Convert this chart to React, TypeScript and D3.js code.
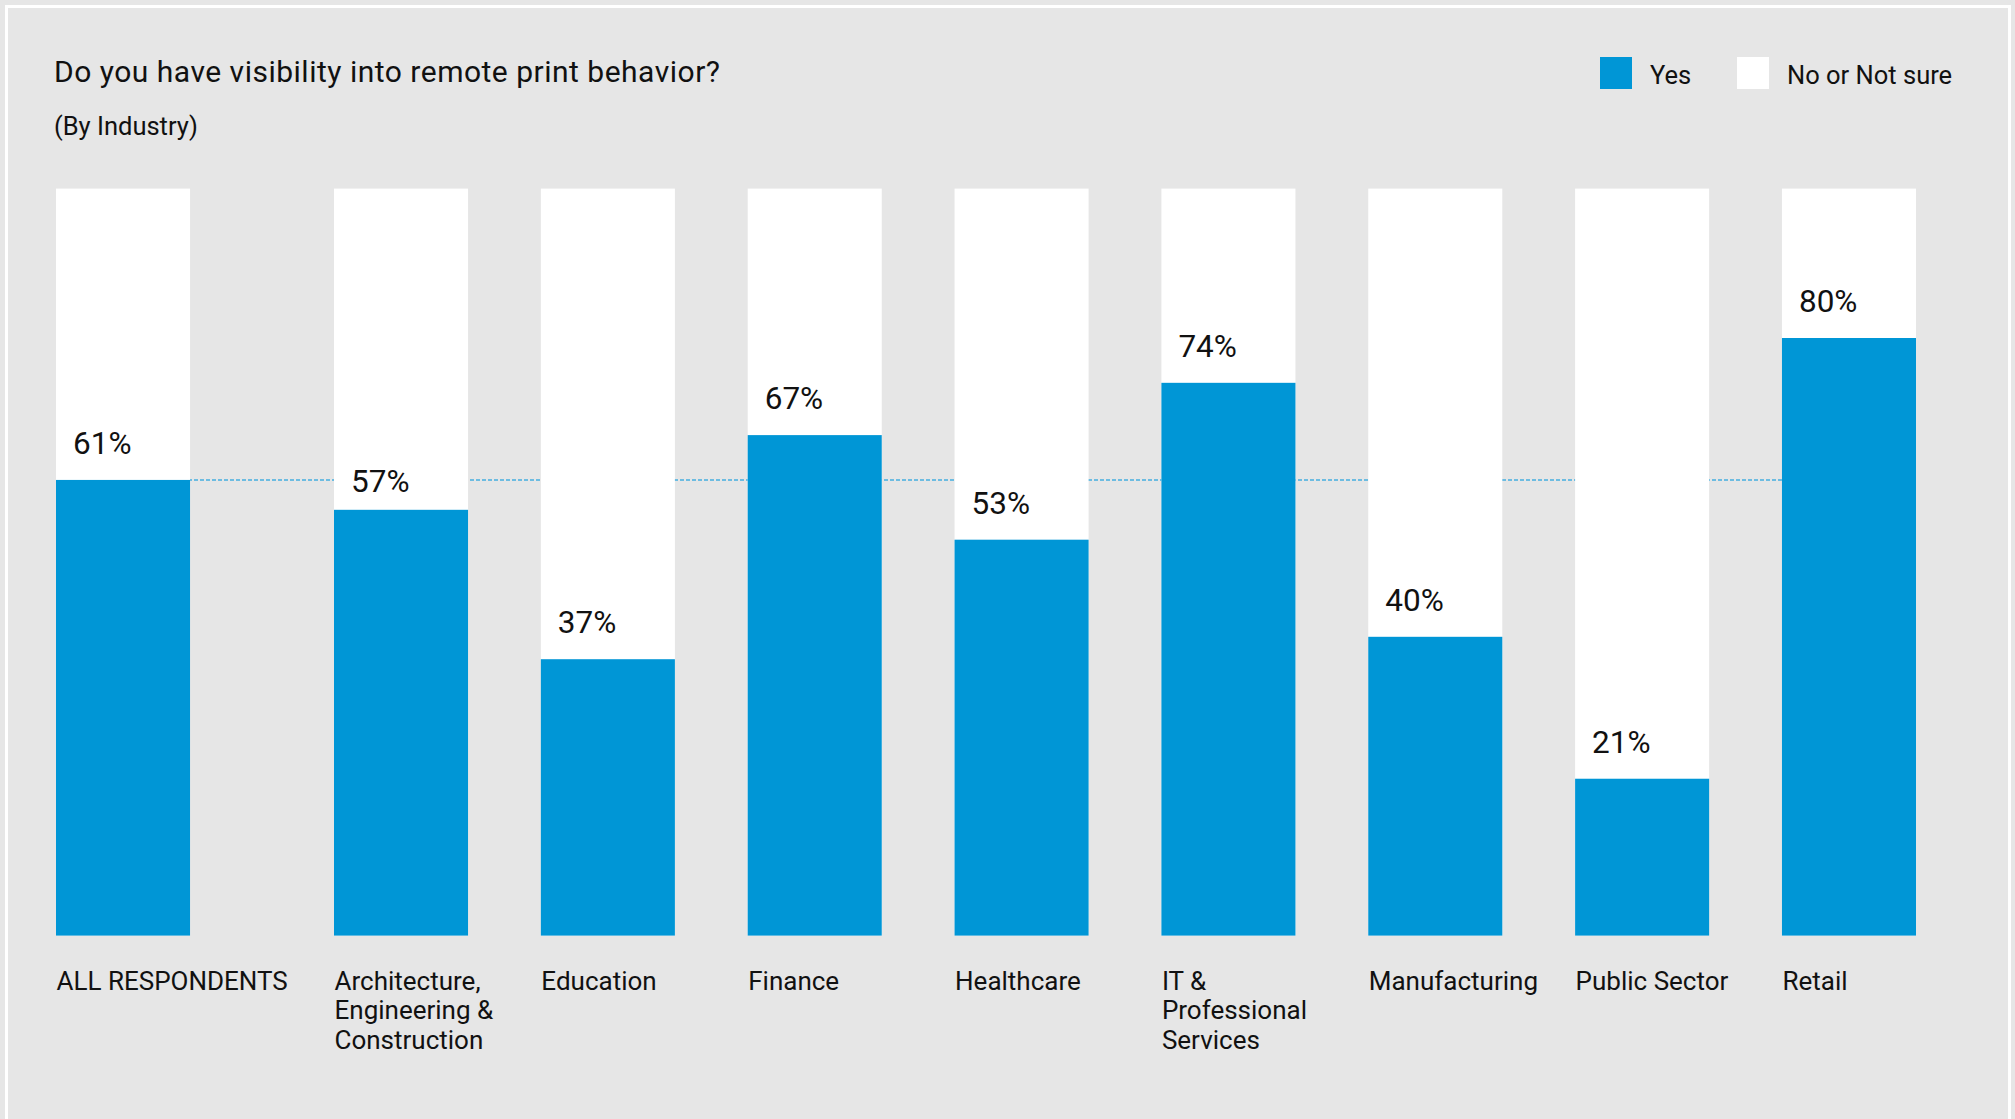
import React from "react";
import * as d3 from "d3";

const TITLE = "Do you have visibility into remote print behavior?";
const SUBTITLE = "(By Industry)";
const LEGEND_LABELS = ["Yes", "No or Not sure"];

const OVERALL_LABEL = ["ALL RESPONDENTS"];
const OVERALL_VALUE = 61;

const industries = [
  ["Architecture,", "Engineering &", "Construction"],
  ["Education"],
  ["Finance"],
  ["Healthcare"],
  ["IT &", "Professional", "Services"],
  ["Manufacturing"],
  ["Public Sector"],
  ["Retail"],
];
const yesValues = [57, 37, 67, 53, 74, 40, 21, 80];

const W = 2015;
const H = 1119;
const BLUE = "#0096d6";
const BG = "#e6e6e6";
const TEXT = "#111111";
const FONT = "Roboto, 'Liberation Sans', Arial, sans-serif";

export default function App() {
  const y = d3.scaleLinear().domain([0, 100]).range([935.6, 188.6]);
  const barBottom = y(0);

  const x = d3
    .scaleBand<number>()
    .domain(d3.range(industries.length))
    .range([334, 1916])
    .paddingInner(0.352)
    .paddingOuter(0);
  const bw = x.bandwidth();
  const overallX = 56;

  const bars = [
    { label: OVERALL_LABEL, value: OVERALL_VALUE, x0: overallX },
    ...industries.map((lab, i) => ({ label: lab, value: yesValues[i], x0: x(i) as number })),
  ];

  const avgY = y(OVERALL_VALUE);
  const valueFont = 31.5;
  const capH = valueFont * 0.711;

  const labelBase = (v: number) => {
    let base = y(v) - 26;
    if (avgY > base - capH && avgY < base + 2) base = Math.max(base, avgY + 12);
    return base;
  };

  return (
    <svg
      width={W}
      height={H}
      viewBox={`0 0 ${W} ${H}`}
      style={{ position: "absolute", left: 0, top: 0, display: "block" }}
      fontFamily={FONT}
    >
      <rect x={0} y={0} width={W} height={H} fill={BG} />
      <rect x={6.5} y={6.5} width={2003} height={2000} fill="none" stroke="#ffffff" strokeWidth={3} />

      <text x={54} y={82} fontSize={30} letterSpacing={0.5} fill={TEXT}>{TITLE}</text>
      <text x={54} y={135} fontSize={25.5} fill={TEXT}>{SUBTITLE}</text>

      {/* legend */}
      <rect x={1600} y={57} width={32} height={32} fill={BLUE} />
      <text x={1650} y={84} fontSize={25.5} fill={TEXT}>{LEGEND_LABELS[0]}</text>
      <rect x={1737} y={57} width={32} height={32} fill="#ffffff" />
      <text x={1787} y={84} fontSize={25.5} fill={TEXT}>{LEGEND_LABELS[1]}</text>

      {/* average line */}
      <line
        x1={overallX}
        x2={x(industries.length - 1) as number}
        y1={avgY}
        y2={avgY}
        stroke="#45aee0"
        strokeWidth={1.5}
        strokeDasharray="4 2"
      />

      {bars.map((b, i) => (
        <g key={i}>
          <rect x={b.x0} y={y(100)} width={bw} height={barBottom - y(100)} fill="#ffffff" />
          <rect x={b.x0} y={y(b.value)} width={bw} height={barBottom - y(b.value)} fill={BLUE} />
          <text x={b.x0 + 17} y={labelBase(b.value)} fontSize={valueFont} fill={TEXT}>
            {`${b.value}%`}
          </text>
          <text x={b.x0 + 0.5} y={990} fontSize={26} fill={TEXT}>
            {b.label.map((line, j) => (
              <tspan key={j} x={b.x0 + 0.5} y={990 + j * 29.3}>
                {line}
              </tspan>
            ))}
          </text>
        </g>
      ))}
    </svg>
  );
}
